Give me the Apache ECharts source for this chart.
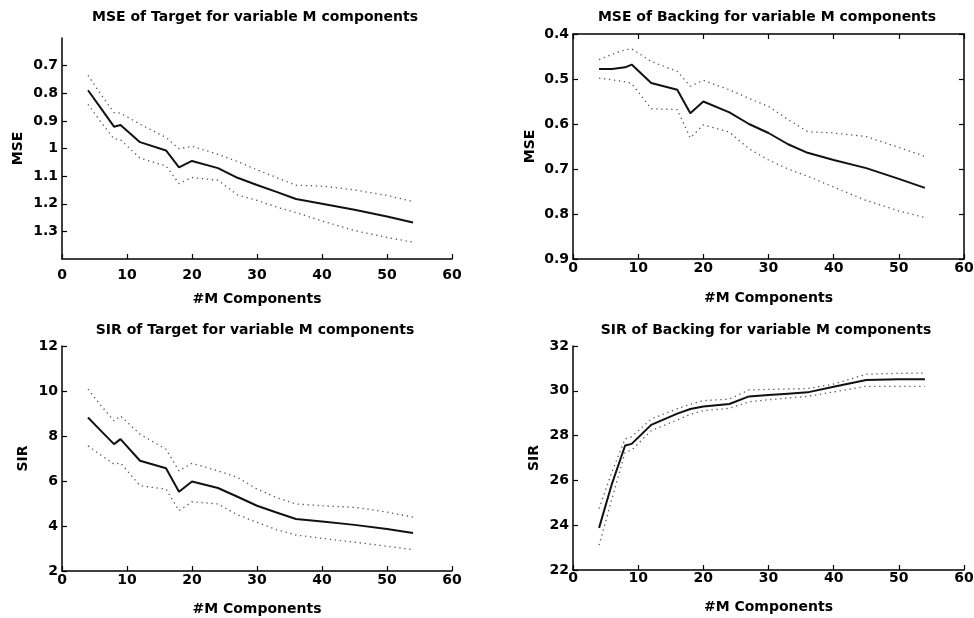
<!DOCTYPE html>
<html>
<head>
<meta charset="utf-8">
<script src="https://cdn.jsdelivr.net/npm/echarts@6/dist/echarts.min.js"></script>
<style>
html,body{margin:0;padding:0;background:#fff;}
#chart{width:974px;height:618px;}
</style>
</head>
<body>
<div id="chart"></div>
<script>
// ---- data ----
const xComponents = [4, 6, 8, 9, 12, 16, 18, 20, 24, 27, 30, 33, 36, 40, 45, 50, 54];

const titles = [
  "MSE of Target for variable M components",
  "MSE of Backing for variable M components",
  "SIR of Target for variable M components",
  "SIR of Backing for variable M components"
];
const xAxisName = "#M Components";
const yAxisNames = ["MSE", "MSE", "SIR", "SIR"];

// MSE of Target
const mseTargetMean  = [0.789, 0.855, 0.921, 0.915, 0.977, 1.007, 1.068, 1.045, 1.071, 1.106, 1.132, 1.157, 1.183, 1.200, 1.222, 1.246, 1.268];
const mseTargetUpper = [0.735, 0.805, 0.870, 0.872, 0.912, 0.960, 1.001, 0.992, 1.021, 1.047, 1.077, 1.105, 1.133, 1.136, 1.150, 1.170, 1.192];
const mseTargetLower = [0.840, 0.905, 0.965, 0.968, 1.035, 1.063, 1.127, 1.105, 1.115, 1.168, 1.188, 1.212, 1.232, 1.262, 1.297, 1.322, 1.339];

// MSE of Backing
const mseBackingMean  = [0.478, 0.478, 0.474, 0.468, 0.509, 0.524, 0.576, 0.550, 0.574, 0.600, 0.620, 0.645, 0.664, 0.680, 0.698, 0.722, 0.742];
const mseBackingUpper = [0.457, 0.445, 0.435, 0.433, 0.461, 0.483, 0.516, 0.503, 0.524, 0.543, 0.561, 0.590, 0.617, 0.620, 0.628, 0.652, 0.672];
const mseBackingLower = [0.498, 0.502, 0.506, 0.510, 0.566, 0.568, 0.631, 0.602, 0.618, 0.655, 0.680, 0.700, 0.716, 0.740, 0.770, 0.793, 0.808];

// SIR of Target
const sirTargetMean  = [8.82, 8.23, 7.64, 7.86, 6.90, 6.57, 5.52, 5.98, 5.69, 5.30, 4.90, 4.60, 4.31, 4.20, 4.05, 3.87, 3.69];
const sirTargetUpper = [10.08, 9.35, 8.67, 8.89, 8.08, 7.41, 6.45, 6.79, 6.45, 6.16, 5.64, 5.27, 4.98, 4.90, 4.83, 4.62, 4.39];
const sirTargetLower = [7.56, 7.15, 6.75, 6.80, 5.79, 5.64, 4.68, 5.08, 4.98, 4.50, 4.16, 3.84, 3.60, 3.45, 3.28, 3.10, 2.95];

// SIR of Backing
const sirBackingMean  = [23.88, 25.87, 27.56, 27.63, 28.48, 28.98, 29.19, 29.30, 29.41, 29.75, 29.81, 29.87, 29.93, 30.18, 30.48, 30.52, 30.52];
const sirBackingUpper = [24.74, 26.40, 27.85, 27.95, 28.74, 29.20, 29.40, 29.56, 29.63, 30.04, 30.06, 30.08, 30.10, 30.30, 30.74, 30.78, 30.79];
const sirBackingLower = [23.11, 25.20, 27.26, 27.35, 28.22, 28.70, 28.95, 29.11, 29.22, 29.51, 29.60, 29.68, 29.75, 29.95, 30.20, 30.20, 30.20];

// axis scales
const xTicks = {min: 0, max: 60, interval: 10};
const yScales = [
  {min: 0.6, max: 1.4, interval: 0.1, inverse: true, hideEnds: true},
  {min: 0.4, max: 0.9, interval: 0.1, inverse: true, hideEnds: false},
  {min: 2, max: 12, interval: 2, inverse: false, hideEnds: false},
  {min: 22, max: 32, interval: 2, inverse: false, hideEnds: false}
];

// ---- layout ----
const FONT = "DejaVu Sans";
const grids = [
  {left: 62, right: 522, top: 38, bottom: 359},
  {left: 573, right: 10, top: 34, bottom: 359},
  {left: 62, right: 522, top: 346, bottom: 47},
  {left: 573, right: 10, top: 346, bottom: 48}
];
const titleCenters = [[255, 10], [767, 10], [255, 323], [766, 323]];
const xLabelMargins = [9, 2, 2, 1];
const xNameGaps = [33, 32, 31, 30];
const yNameGaps = [37, 36, 32, 32];

const series = [
  [mseTargetMean, mseTargetUpper, mseTargetLower],
  [mseBackingMean, mseBackingUpper, mseBackingLower],
  [sirTargetMean, sirTargetUpper, sirTargetLower],
  [sirBackingMean, sirBackingUpper, sirBackingLower]
];

const labelStyle = {fontFamily: FONT, fontWeight: 'bold', fontSize: 14, color: '#000'};
const axisLineStyle = {color: '#000', width: 1.5};

const option = {
  backgroundColor: '#fff',
  animation: false,
  title: [],
  grid: [],
  xAxis: [],
  yAxis: [],
  series: []
};

for (let i = 0; i < 4; i++) {
  option.title.push({
    text: titles[i],
    left: titleCenters[i][0],
    top: titleCenters[i][1],
    textAlign: 'center',
    padding: 0,
    textStyle: {fontFamily: FONT, fontWeight: 'bold', fontSize: 14, color: '#000'}
  });
  option.grid.push(Object.assign({containLabel: false, outerBoundsMode: 'none'}, grids[i]));
  option.xAxis.push({
    type: 'value', gridIndex: i, position: 'bottom',
    min: xTicks.min, max: xTicks.max, interval: xTicks.interval,
    name: xAxisName, nameLocation: 'middle', nameGap: xNameGaps[i],
    nameTextStyle: labelStyle,
    axisLine: {show: true, onZero: false, lineStyle: axisLineStyle},
    axisTick: {show: true, inside: true, length: 5, lineStyle: {color: '#000', width: 1.2}},
    axisLabel: Object.assign({margin: xLabelMargins[i]}, labelStyle),
    splitLine: {show: false}
  });
  const ys = yScales[i];
  option.yAxis.push({
    type: 'value', gridIndex: i, position: 'left',
    min: ys.min, max: ys.max, interval: ys.interval, inverse: ys.inverse,
    name: yAxisNames[i], nameLocation: 'middle', nameGap: yNameGaps[i], nameRotate: 90,
    nameTextStyle: labelStyle,
    axisLine: {show: true, onZero: false, lineStyle: axisLineStyle},
    axisTick: {show: true, inside: true, length: 5, lineStyle: {color: '#000', width: 1.2}},
    axisLabel: Object.assign({margin: 4, showMinLabel: !ys.hideEnds, showMaxLabel: !ys.hideEnds}, labelStyle),
    splitLine: {show: false}
  });
}

// box for the MSE of Backing panel (top and right edges)
option.xAxis.push({
  type: 'value', gridIndex: 1, position: 'top',
  min: xTicks.min, max: xTicks.max, interval: xTicks.interval,
  axisLine: {show: true, onZero: false, lineStyle: axisLineStyle},
  axisTick: {show: true, inside: true, length: 5, lineStyle: {color: '#000', width: 1.2}},
  axisLabel: {show: false}, splitLine: {show: false}
});
option.yAxis.push({
  type: 'value', gridIndex: 1, position: 'right',
  min: yScales[1].min, max: yScales[1].max, interval: yScales[1].interval, inverse: true,
  axisLine: {show: true, onZero: false, lineStyle: axisLineStyle},
  axisTick: {show: true, inside: true, length: 5, lineStyle: {color: '#000', width: 1.2}},
  axisLabel: {show: false}, splitLine: {show: false}
});

function pairs(ys) { return xComponents.map((x, k) => [x, ys[k]]); }

for (let i = 0; i < 4; i++) {
  const [mean, up, lo] = series[i];
  option.series.push({
    type: 'line', xAxisIndex: i, yAxisIndex: i, data: pairs(mean),
    symbol: 'none', silent: true, z: 3,
    lineStyle: {color: '#111', width: 2}
  });
  [up, lo].forEach(arr => option.series.push({
    type: 'line', xAxisIndex: i, yAxisIndex: i, data: pairs(arr),
    symbol: 'none', silent: true, z: 2,
    lineStyle: {color: '#555', width: 1.3, type: [1.3, 3.7]}
  }));
}

const chart = echarts.init(document.getElementById('chart'), null, {renderer: 'canvas'});
chart.setOption(option);
</script>
</body>
</html>
